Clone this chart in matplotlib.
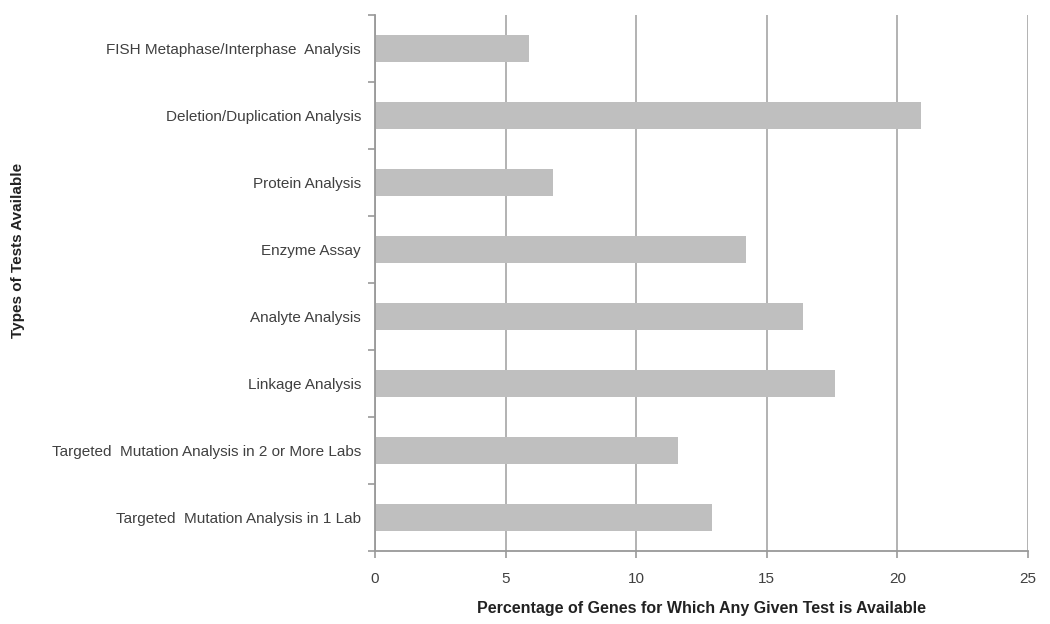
import matplotlib.pyplot as plt
import numpy as np

tests = [
    "FISH Metaphase/Interphase  Analysis",
    "Deletion/Duplication Analysis",
    "Protein Analysis",
    "Enzyme Assay",
    "Analyte Analysis",
    "Linkage Analysis",
    "Targeted  Mutation Analysis in 2 or More Labs",
    "Targeted  Mutation Analysis in 1 Lab",
]
percent = [5.9, 20.9, 6.8, 14.2, 16.4, 17.6, 11.6, 12.9]
xticks = [0, 5, 10, 15, 20, 25]

plt.rcParams['font.family'] = ['Liberation Sans', 'DejaVu Sans']

fig = plt.figure(figsize=(10.5, 6.24), dpi=100)
ax = fig.add_axes([375/1050, 1 - 551/624, (1028-375)/1050, (551-15)/624])

n = len(tests)
ypos = np.arange(n)[::-1]  # first category at the top
ax.barh(ypos, percent, height=0.4, color='#bfbfbf', zorder=2)

ax.set_xlim(0, 25)
ax.set_ylim(-0.5, n - 0.5)
ax.set_xticks(xticks)
ax.set_xticklabels([str(t) for t in xticks], fontsize=11, color='#404040')
ax.set_yticks(ypos)
ax.set_yticklabels(tests, fontsize=11, color='#404040')
ax.tick_params(axis='y', length=0, pad=10)
ax.set_yticks(np.arange(n + 1) - 0.5, minor=True)
ax.tick_params(axis='y', which='minor', length=5, color='#999999', width=1.2)
ax.tick_params(axis='x', length=5, color='#999999', width=1.2, pad=10)

ax.grid(axis='x', color='#a6a6a6', linewidth=1.2, zorder=1)
for s in ['top', 'right']:
    ax.spines[s].set_visible(False)
for s in ['left', 'bottom']:
    ax.spines[s].set_color('#999999')
    ax.spines[s].set_linewidth(1.3)

ax.set_xlabel("Percentage of Genes for Which Any Given Test is Available",
              fontsize=11.5, fontweight='bold', color='#222222', labelpad=11)
ax.set_ylabel("Types of Tests Available", fontsize=11, fontweight='bold',
              color='#222222')
ax.yaxis.set_label_coords(-350/653, 0.56)

fig.savefig('out.png', dpi=100)
